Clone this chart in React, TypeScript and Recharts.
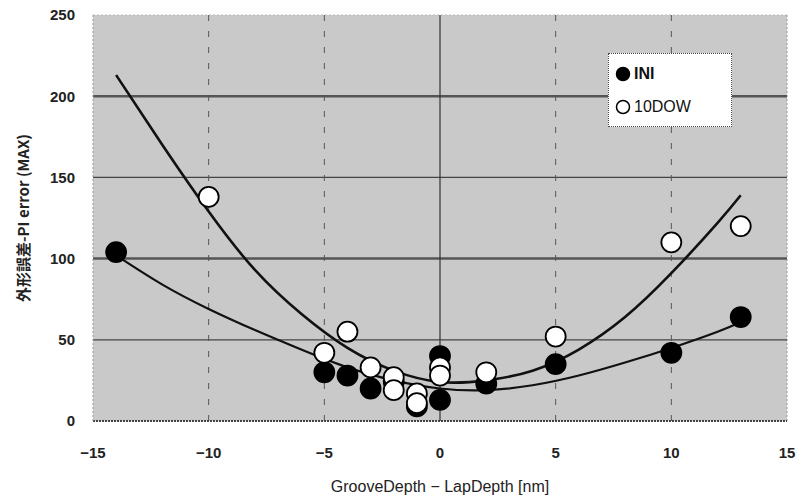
import { ComposedChart, XAxis, YAxis, Scatter, Line, ReferenceLine, ReferenceArea, Label } from "recharts";

const xTicks = [-15, -10, -5, 0, 5, 10, 15];
const yTicks = [0, 50, 100, 150, 200, 250];

// measured points
const iniX = [-14, -5, -4, -3, -2, -1, 0, 0, 2, 5, 10, 13];
const iniY = [104, 30, 28, 20, 24, 9, 40, 13, 23, 35, 42, 64];
const dowX = [-10, -5, -4, -3, -2, -2, -1, -1, 0, 0, 2, 5, 10, 13];
const dowY = [138, 42, 55, 33, 27, 19, 17, 11, 33, 28, 30, 52, 110, 120];

// trend curves
const trendX = [-14, -12, -10, -8, -6, -4, -2, 0, 2, 4, 6, 8, 10, 12, 13];
const iniTrend = [102, 84, 69, 56, 44, 33, 25, 20, 19, 22, 28, 36, 45, 55, 61];
const dowTrend = [213, 170, 129, 93, 66, 45, 31, 24, 25, 31, 44, 64, 91, 122, 139];

const iniData = iniX.map((x, i) => ({ x, y: iniY[i] }));
const dowData = dowX.map((x, i) => ({ x, y: dowY[i] }));
const iniLine = trendX.map((x, i) => ({ x, y: iniTrend[i] }));
const dowLine = trendX.map((x, i) => ({ x, y: dowTrend[i] }));

const font = "'Liberation Sans Narrow', 'Liberation Sans', Arial, sans-serif";
const tickStyle = { fontFamily: font, fontSize: 15, fontWeight: 700, fill: "#222" };
const fmt = (v: number) => (v < 0 ? "\u2212" + Math.abs(v) : String(v));

const Dot = (fill: string) => (p: any) => (
  <circle cx={p.cx} cy={p.cy} r={10} fill={fill} stroke="#000" strokeWidth={1.8} />
);

function LegendBox() {
  const row = (fill: string, text: string) => (
    <div style={{ display: "flex", alignItems: "center", height: 33 }}>
      <svg width={16} height={16} style={{ marginRight: 3 }}>
        <circle cx={8} cy={8} r={6.5} fill={fill} stroke="#000" strokeWidth={1.5} />
      </svg>
      <span style={{ fontFamily: font, fontSize: 16, fontWeight: fill === "#000" ? 700 : 400, color: "#111" }}>{text}</span>
    </div>
  );
  return (
    <div style={{ position: "absolute", left: 608, top: 53, width: 110, background: "#fff", border: "1px dotted #444", padding: "3px 6px" }}>
      {row("#000", "INI")}
      {row("#fff", "10DOW")}
    </div>
  );
}

export default function App() {
  return (
    <div style={{ position: "fixed", left: 0, top: 0, width: 797, height: 499, background: "#fff" }}>
      <ComposedChart width={797} height={499} margin={{ top: 15, right: 10, left: 0, bottom: 0 }}>
        <XAxis
          dataKey="x"
          type="number"
          domain={[-15, 15]}
          ticks={xTicks}
          tickFormatter={fmt}
          tick={tickStyle}
          tickLine={false}
          tickMargin={20}
          height={78}
          axisLine={{ stroke: "#444", strokeWidth: 2, strokeDasharray: "2 1" }}
          allowDataOverflow
        >
          <Label
            content={(props: any) => {
              const vb = props.viewBox;
              return (
                <text x={vb.x + vb.width / 2} y={vb.y + 71} textAnchor="middle" fontFamily={font} fontSize={16} fill="#222">
                  GrooveDepth − LapDepth [nm]
                </text>
              );
            }}
          />
        </XAxis>
        <YAxis
          dataKey="y"
          type="number"
          domain={[0, 250]}
          ticks={yTicks}
          tick={tickStyle}
          tickLine={false}
          tickMargin={12}
          width={93}
          axisLine={{ stroke: "#999", strokeDasharray: "2 2" }}
          allowDataOverflow
        >
          <Label
            content={(props: any) => {
              const vb = props.viewBox;
              const cx = vb.x + 22;
              const cy = vb.y + vb.height / 2;
              return (
                <text x={cx} y={cy} textAnchor="middle" dominantBaseline="central" transform={`rotate(-90 ${cx} ${cy})`} fontFamily="'Noto Sans CJK JP', sans-serif" fontSize={15} fontWeight={700} fill="#222">
                  外形誤差-PI error (MAX)
                </text>
              );
            }}
          />
        </YAxis>
        <ReferenceArea x1={-15} x2={15} y1={0} y2={250} fill="#c9c9c9" fillOpacity={1} stroke="none" />
        <ReferenceLine y={250} stroke="#bbb" strokeDasharray="2 2" />
        <ReferenceLine x={15} stroke="#999" strokeDasharray="2 2" />
        <ReferenceLine y={50} stroke="#444" strokeWidth={1.2} />
        <ReferenceLine y={150} stroke="#444" strokeWidth={1.2} />
        <ReferenceLine y={100} stroke="#555" strokeWidth={2.5} />
        <ReferenceLine y={200} stroke="#555" strokeWidth={2.5} />
        <ReferenceLine x={-10} stroke="#555" strokeDasharray="6 10" />
        <ReferenceLine x={-5} stroke="#555" strokeDasharray="6 10" />
        <ReferenceLine x={5} stroke="#555" strokeDasharray="6 10" />
        <ReferenceLine x={10} stroke="#555" strokeDasharray="6 10" />
        <ReferenceLine x={0} stroke="#333" strokeWidth={1.2} />
        <Line data={iniLine} dataKey="y" type="natural" stroke="#111" strokeWidth={2.2} dot={false} isAnimationActive={false} legendType="none" />
        <Line data={dowLine} dataKey="y" type="natural" stroke="#111" strokeWidth={2.6} dot={false} isAnimationActive={false} legendType="none" />
        <Scatter name="INI" data={iniData} shape={Dot("#000")} isAnimationActive={false} />
        <Scatter name="10DOW" data={dowData} shape={Dot("#fff")} isAnimationActive={false} />
      </ComposedChart>
      <LegendBox />
    </div>
  );
}
